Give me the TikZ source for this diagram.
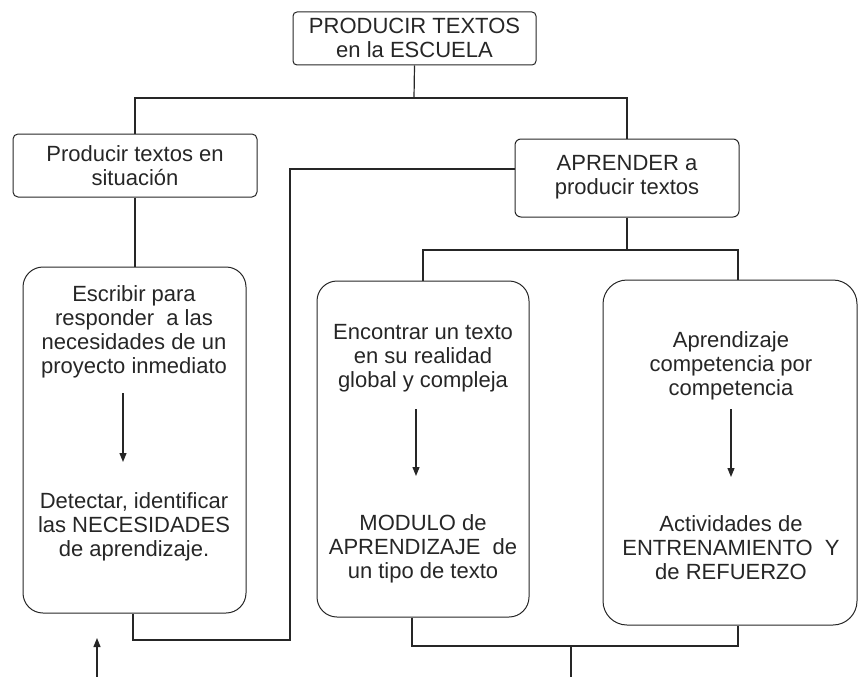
\documentclass[tikz,border=0pt]{standalone}
\usepackage{fontspec}
\setmainfont{Liberation Sans}
\usetikzlibrary{arrows.meta}
\begin{document}
\begin{tikzpicture}[x=1pt,y=-1pt,
  txt/.style={align=center,font=\fontsize{22}{24}\selectfont,text=black!85,inner sep=0pt},
  box/.style={draw=black!85,line width=1pt,inner sep=0pt},
  conn/.style={draw=black!85,line width=1.2pt},
  arr/.style={conn,-{Triangle[length=9pt,width=7pt]}}]
\useasboundingbox (0,0) rectangle (859,677);
% boxes
\node[box,rounded corners=4pt,minimum width=243pt,minimum height=53pt] (top) at (414.5,38.5) {};
\node[txt] at (414.5,37.5) {PRODUCIR TEXTOS\\en la ESCUELA};
\node[box,rounded corners=5pt,minimum width=244pt,minimum height=63pt] (prod) at (135,165.5) {};
\node[txt] at (135,166) {Producir textos en\\situación};
\node[box,rounded corners=6pt,minimum width=224pt,minimum height=78pt] (apr) at (627,178) {};
\node[txt] at (627,177) {APRENDER a\\producir textos};
\node[box,rounded corners=20pt,minimum width=223pt,minimum height=346pt] (b1) at (134.5,440) {};
\node[box,rounded corners=20pt,minimum width=212pt,minimum height=336pt] (b2) at (423,449) {};
\node[box,rounded corners=24pt,minimum width=254pt,minimum height=345pt] (b3) at (730,452.5) {};
% inner texts
\node[txt] (t1a) at (134,331.5) {Escribir para\\responder \ a las\\necesidades de un\\proyecto inmediato};
\node[txt] (t1b) at (134,527) {Detectar, identificar\\las NECESIDADES\\de aprendizaje.};
\node[txt] (t2a) at (423,358) {Encontrar un texto\\en su realidad\\global y compleja};
\node[txt] (t2b) at (423,549) {MODULO de\\APRENDIZAJE \ de\\un tipo de texto};
\node[txt] (t3a) at (731,366) {Aprendizaje\\competencia por\\competencia};
\node[txt] (t3b) at (731,548) {Actividades de\\ENTRENAMIENTO \ Y\\de REFUERZO};
% inner arrows
\coordinate (a1s) at (123,393); \coordinate (a1e) at (123,462);
\coordinate (a2s) at (416,409); \coordinate (a2e) at (416,476);
\coordinate (a3s) at (731,409); \coordinate (a3e) at (731,477);
\draw[arr] (a1s) -- (a1e);
\draw[arr] (a2s) -- (a2e);
\draw[arr] (a3s) -- (a3e);
% connectors
\coordinate (j1) at (414,98);
\draw[conn] (top.south) -- (j1);
\draw[conn] (prod.north) |- (j1) -| (apr.north);
\draw[conn] (prod.south) -- (prod.south |- b1.north);
\coordinate (k1) at (290,169);
\coordinate (k2) at (290,640);
\coordinate (k3) at (133,640);
\draw[conn] (apr.west |- k1) -- (k1) -- (k2) -- (k3) -- (k3 |- b1.south);
\coordinate (j2) at (627,250);
\coordinate (r1) at (738,280);
\draw[conn] (apr.south) -- (j2);
\draw[conn] (b2.north) |- (j2) -| (r1);
\coordinate (m1) at (412,646);
\coordinate (r2) at (738,646);
\coordinate (n1) at (571,646);
\coordinate (n2) at (571,677);
\draw[conn] (m1 |- b2.south) -- (m1) -- (r2) -- (r2 |- b3.south);
\draw[conn] (n1) -- (n2);
\coordinate (u1) at (97,677);
\coordinate (u2) at (97,638);
\draw[arr] (u1) -- (u2);
\end{tikzpicture}
\end{document}
